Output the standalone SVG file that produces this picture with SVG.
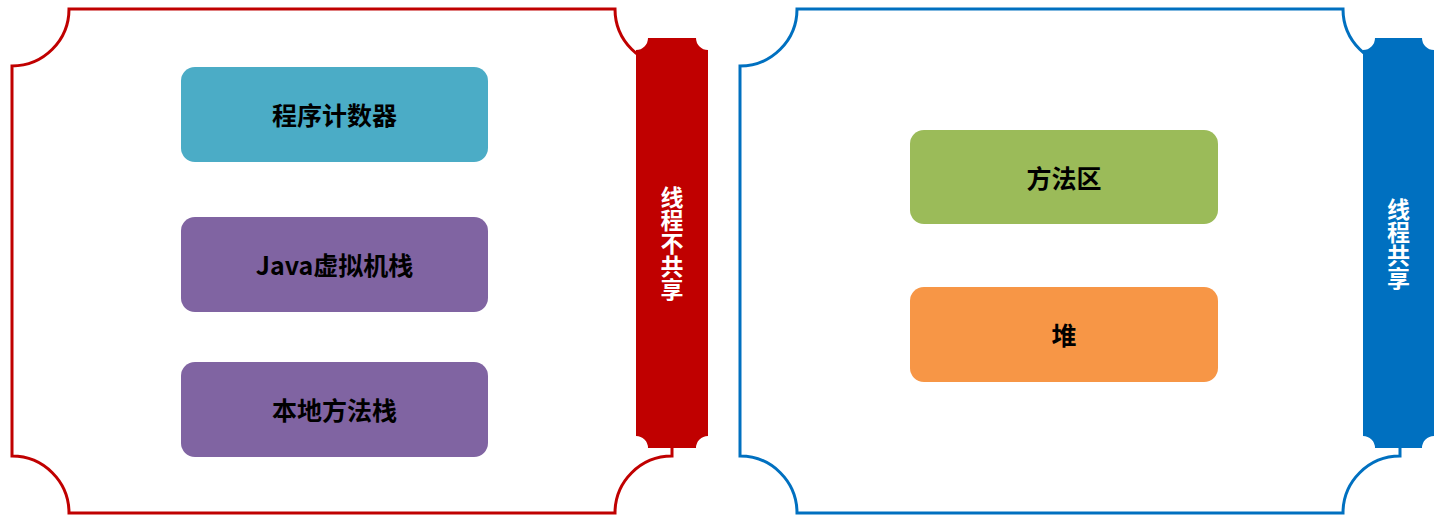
<svg xmlns="http://www.w3.org/2000/svg" width="1447" height="518" viewBox="0 0 1447 518">
<style>
.frame{fill:#ffffff;stroke-width:3}
.red{stroke:#C00000}
.blue{stroke:#0070C0}
.node-label{font-family:"Noto Sans CJK SC","Noto Sans",sans-serif;font-weight:bold;font-size:25px;fill:#000000;text-anchor:middle;dominant-baseline:central}
.tab-label{font-family:"Noto Sans CJK SC","Noto Sans",sans-serif;font-weight:bold;font-size:23px;fill:#ffffff;text-anchor:middle;writing-mode:vertical-rl}
</style>
<rect width="1447" height="518" fill="#ffffff"/>
<g id="frame-left">
<path class="frame red" d="M69,9 H615 A57,57 0 0 0 672,66 V456 A57,57 0 0 0 615,513 H69 A57,57 0 0 0 12,456 V66 A57,57 0 0 0 69,9 Z"/>
</g>
<g id="frame-right">
<path class="frame blue" d="M797,9 H1343 A57,57 0 0 0 1400,66 V456 A57,57 0 0 0 1343,513 H797 A57,57 0 0 0 740,456 V66 A57,57 0 0 0 797,9 Z"/>
</g>
<g id="tab-not-shared">
<path fill="#C00000" d="M648,38 H696 A12,12 0 0 0 708,50 V436 A12,12 0 0 0 696,448 H648 A12,12 0 0 0 636,436 V50 A12,12 0 0 0 648,38 Z"/>
<text class="tab-label" x="672" y="243.5">线程不共享</text>
</g>
<g id="tab-shared">
<path fill="#0070C0" d="M1375,38 H1422 A12,12 0 0 0 1434,50 V436 A12,12 0 0 0 1422,448 H1375 A12,12 0 0 0 1363,436 V50 A12,12 0 0 0 1375,38 Z"/>
<text class="tab-label" x="1398.5" y="243.5">线程共享</text>
</g>
<g id="node-pc">
<rect x="181" y="67" width="307" height="95" rx="14" fill="#4BACC6"/>
<text class="node-label" x="334.5" y="114">程序计数器</text>
</g>
<g id="node-jvm-stack">
<rect x="181" y="217" width="307" height="95" rx="14" fill="#8064A2"/>
<text class="node-label" x="334.5" y="264">Java虚拟机栈</text>
</g>
<g id="node-native-stack">
<rect x="181" y="362" width="307" height="95" rx="14" fill="#8064A2"/>
<text class="node-label" x="334.5" y="409">本地方法栈</text>
</g>
<g id="node-method-area">
<rect x="910" y="130" width="308" height="94" rx="14" fill="#9BBB59"/>
<text class="node-label" x="1064" y="177">方法区</text>
</g>
<g id="node-heap">
<rect x="910" y="287" width="308" height="95" rx="14" fill="#F79646"/>
<text class="node-label" x="1064" y="334">堆</text>
</g>
<g id="connectors"></g>
</svg>
